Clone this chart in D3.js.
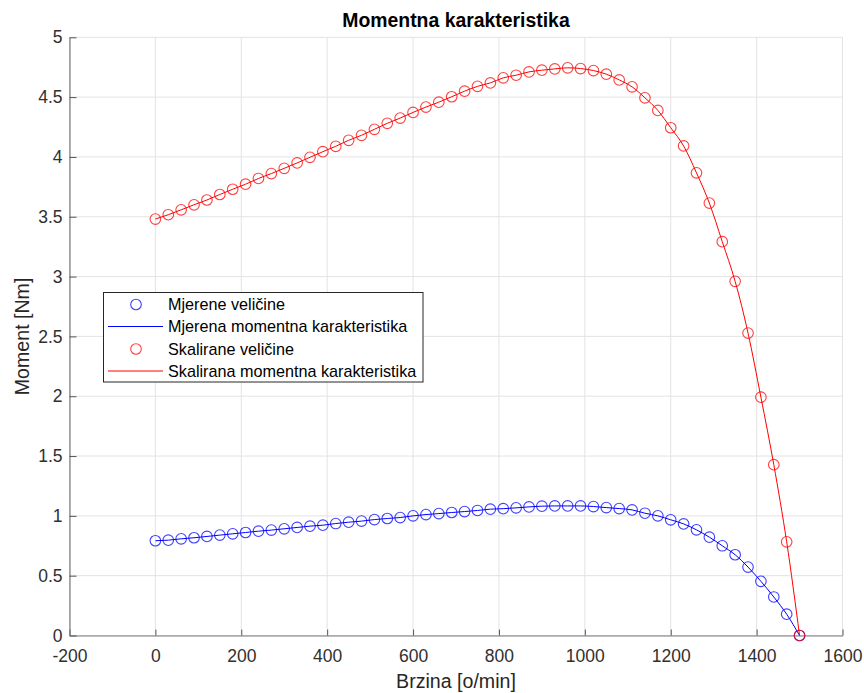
<!DOCTYPE html>
<html>
<head>
<meta charset="utf-8">
<script src="https://cdn.jsdelivr.net/npm/d3@7"></script>
<style>
  html, body { margin: 0; padding: 0; background: #fff; }
  svg { display: block; font-family: "Liberation Sans", Arial, Helvetica, sans-serif; }
</style>
</head>
<body>
<div id="chart"></div>
<script>
// ---- data ----
const speed = [0,30,60,90,120,150,180,210,240,270,300,330,360,390,420,450,480,510,540,570,600,630,660,690,720,750,780,810,840,870,900,930,960,990,1020,1050,1080,1110,1140,1170,1200,1230,1260,1290,1320,1350,1380,1410,1440,1470,1500];
const measured = [0.792,0.797,0.808,0.817,0.828,0.839,0.850,0.861,0.872,0.881,0.892,0.903,0.914,0.922,0.936,0.947,0.956,0.969,0.978,0.986,1.000,1.011,1.019,1.028,1.036,1.045,1.056,1.060,1.067,1.075,1.081,1.083,1.083,1.083,1.078,1.069,1.061,1.050,1.022,1.000,0.967,0.933,0.883,0.822,0.750,0.675,0.572,0.453,0.322,0.178,0.000];
const scaled = [3.481,3.517,3.558,3.600,3.640,3.686,3.730,3.772,3.820,3.861,3.905,3.950,3.997,4.044,4.089,4.139,4.181,4.231,4.281,4.325,4.372,4.417,4.458,4.503,4.550,4.590,4.619,4.661,4.683,4.711,4.725,4.736,4.745,4.739,4.722,4.692,4.644,4.586,4.494,4.389,4.244,4.092,3.867,3.614,3.292,2.960,2.528,1.992,1.428,0.783,0.000];
const xTicks = [-200,0,200,400,600,800,1000,1200,1400,1600];
const yTicks = [0,0.5,1,1.5,2,2.5,3,3.5,4,4.5,5];
const legendLabels = ["Mjerene veličine","Mjerena momentna karakteristika","Skalirane veličine","Skalirana momentna karakteristika"];
const titleText = "Momentna karakteristika";
const xLabel = "Brzina [o/min]";
const yLabel = "Moment [Nm]";

// ---- layout ----
const W = 864, H = 693;
const pL = 69.5, pR = 842.5, pT = 37.3, pB = 635.5;
const x = d3.scaleLinear().domain([-200,1600]).range([pL,pR]);
const y = d3.scaleLinear().domain([0,5]).range([pB,pT]);

const svg = d3.select("#chart").append("svg").attr("width",W).attr("height",H);

// grid
const grid = svg.append("g").attr("stroke","#e3e3e3").attr("stroke-width",1);
grid.selectAll(".gx").data(xTicks).join("line")
  .attr("x1",d=>x(d)).attr("x2",d=>x(d)).attr("y1",pT).attr("y2",pB);
grid.selectAll(".gy").data(yTicks).join("line")
  .attr("x1",pL).attr("x2",pR).attr("y1",d=>y(d)).attr("y2",d=>y(d));

// axes
const xAxis = d3.axisBottom(x).tickValues(xTicks).tickSizeInner(-6).tickSizeOuter(0).tickPadding(14.5).tickFormat(d=>String(d));
const yAxis = d3.axisLeft(y).tickValues(yTicks).tickSizeInner(-7).tickSizeOuter(0).tickPadding(7).tickFormat(d=>String(d));
const gx = svg.append("g").attr("transform",`translate(0,${pB})`).call(xAxis);
const gy = svg.append("g").attr("transform",`translate(${pL},0)`).call(yAxis);
[gx,gy].forEach(g=>{
  g.select(".domain").attr("stroke","#7a7a7a").attr("stroke-width",1.2);
  g.selectAll(".tick line").attr("stroke","#555").attr("stroke-width",1);
  g.selectAll(".tick text").attr("fill","#303030").attr("font-size","17.5px").attr("font-family","Liberation Sans, Arial, sans-serif");
});

// series
const line = d3.line().x((d,i)=>x(speed[i])).y(d=>y(d)).curve(d3.curveMonotoneX);
function drawSeries(vals,color){
  svg.append("path").datum(vals).attr("d",line).attr("fill","none").attr("stroke",color).attr("stroke-width",1);
  svg.append("g").selectAll("circle").data(vals).join("circle")
    .attr("cx",(d,i)=>x(speed[i])).attr("cy",d=>y(d)).attr("r",5.3)
    .attr("fill","none").attr("stroke",color).attr("stroke-width",1.1).attr("stroke-opacity",0.75);
}
drawSeries(measured,"#0000ff");
drawSeries(scaled,"#ff0000");

// title & labels
svg.append("text").attr("x",(pL+pR)/2).attr("y",27).attr("text-anchor","middle")
  .attr("font-weight","bold").attr("font-size","19.4px").attr("fill","#000").text(titleText);
svg.append("text").attr("x",(pL+pR)/2).attr("y",688).attr("text-anchor","middle")
  .attr("font-size","19.6px").attr("fill","#262626").text(xLabel);
svg.append("text").attr("transform",`translate(29,${(pT+pB)/2}) rotate(-90)`).attr("text-anchor","middle")
  .attr("font-size","19.6px").attr("fill","#262626").text(yLabel);

// legend
const lg = svg.append("g");
lg.append("rect").attr("x",103.5).attr("y",292.5).attr("width",319.5).attr("height",89.5)
  .attr("fill","#fff").attr("stroke","#262626").attr("stroke-width",1);
const rowsY = [304.5,326.5,349,371];
const legendItems = [
  {type:"marker",color:"#0000ff"},
  {type:"line",color:"#0000ff"},
  {type:"marker",color:"#ff0000"},
  {type:"line",color:"#ff0000"}
];
legendItems.forEach((it,i)=>{
  const cy = rowsY[i];
  if(it.type==="marker"){
    lg.append("circle").attr("cx",136).attr("cy",cy).attr("r",5.3).attr("fill","none")
      .attr("stroke",it.color).attr("stroke-width",1.1).attr("stroke-opacity",0.75);
  } else {
    lg.append("line").attr("x1",108).attr("x2",163).attr("y1",cy).attr("y2",cy)
      .attr("stroke",it.color).attr("stroke-width",1);
  }
  lg.append("text").attr("x",168).attr("y",cy+5.8).attr("font-size","16.2px").attr("fill","#000").text(legendLabels[i]);
});
</script>
</body>
</html>
